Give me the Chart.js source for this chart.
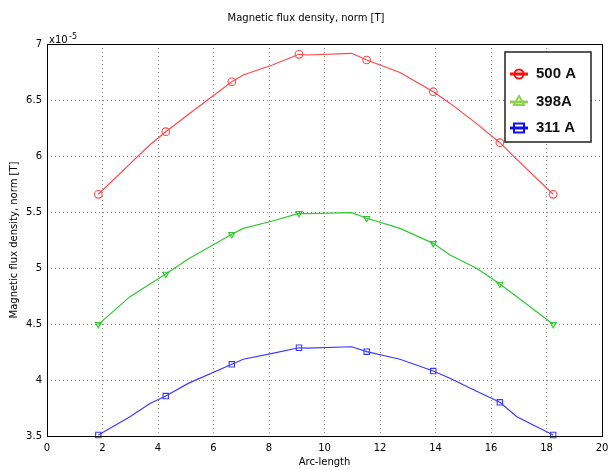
<!DOCTYPE html>
<html>
<head>
<meta charset="utf-8">
<script src="https://cdn.jsdelivr.net/npm/chart.js@4"></script>
<style>
  html, body { margin: 0; padding: 0; background: #fff; }
  #wrap { width: 609px; height: 470px; }
</style>
</head>
<body>
<div id="wrap"><canvas id="chartFlux" width="609" height="470"></canvas></div>
<script>
// arc-length sample positions (shared by all three currents)
const arcX = [1.85, 2.99, 3.71, 4.28, 5.09, 6.66, 7.07, 8.12, 9.08, 9.36, 10.98, 11.52, 12.72, 13.92, 14.52, 15.48, 16.32, 16.93, 18.24];
// which samples carry a marker
const markerIdx = [0, 3, 5, 8, 11, 13, 16, 18];

// |B| in units of 1e-5 T
const flux500 = [5.658, 5.93, 6.10, 6.217, 6.37, 6.663, 6.723, 6.812, 6.908, 6.902, 6.917, 6.857, 6.745, 6.574, 6.472, 6.289, 6.119, 5.97, 5.658];
const flux398 = [4.497, 4.744, 4.857, 4.946, 5.08, 5.301, 5.354, 5.42, 5.488, 5.485, 5.494, 5.444, 5.354, 5.22, 5.116, 4.997, 4.857, 4.744, 4.497];
const flux311 = [3.509, 3.672, 3.79, 3.857, 3.97, 4.14, 4.185, 4.238, 4.288, 4.285, 4.297, 4.253, 4.185, 4.08, 4.015, 3.90, 3.801, 3.672, 3.509];

const seriesNames = ["500 A", "398A", "311 A"];
const xTicks = [0, 2, 4, 6, 8, 10, 12, 14, 16, 18, 20];
const yTicks = [3.5, 4, 4.5, 5, 5.5, 6, 6.5, 7];

const tickFont = { family: "DejaVu Sans", size: 10 };

function points(values) {
  return arcX.map((x, i) => ({ x, y: values[i] }));
}

function radii(r) {
  return arcX.map((_, i) => (markerIdx.includes(i) ? r : 0));
}

function series(label, values, color, style, rotation) {
  return {
    label,
    data: points(values),
    borderColor: color,
    backgroundColor: "rgba(0,0,0,0)",
    borderWidth: 1.2,
    pointStyle: style,
    rotation,
    pointRadius: radii(style === "triangle" ? 3.5 : 3.8),
    pointBorderColor: color,
    pointBorderWidth: 1.1,
    pointBackgroundColor: "rgba(0,0,0,0)",
    tension: 0,
    clip: 6,
  };
}

// frame, exponent, title and the boxed legend
const decorations = {
  id: "decorations",
  afterDatasetsDraw(chart) {
    const { ctx, chartArea: a } = chart;
    ctx.save();
    ctx.strokeStyle = "#000";
    ctx.lineWidth = 1;
    ctx.strokeRect(Math.round(a.left) + 0.5, Math.round(a.top) + 0.5, Math.round(a.right - a.left), Math.round(a.bottom - a.top));

    ctx.fillStyle = "#000";
    ctx.font = "10px 'DejaVu Sans'";
    ctx.textAlign = "center";
    ctx.textBaseline = "middle";
    ctx.fillText("Magnetic flux density, norm [T]", 306, 18);

    ctx.textAlign = "left";
    ctx.textBaseline = "alphabetic";
    ctx.fillText("x10", a.left + 2, a.top - 1);
    ctx.font = "8px 'DejaVu Sans'";
    ctx.fillText("-5", a.left + 22, a.top - 5);

    // legend box
    const box = { x: 505, y: 52, w: 86, h: 90 };
    ctx.fillStyle = "#fff";
    ctx.fillRect(box.x, box.y, box.w, box.h);
    ctx.lineWidth = 1.5;
    ctx.strokeStyle = "#222";
    ctx.strokeRect(box.x, box.y, box.w, box.h);

    const legendColors = ["#ff1010", "#90d050", "#1010ee"];
    const rows = [74, 102, 128];
    rows.forEach((y, i) => {
      const c = legendColors[i];
      ctx.strokeStyle = c;
      ctx.fillStyle = c;
      ctx.lineWidth = 3;
      ctx.beginPath();
      ctx.moveTo(510, y);
      ctx.lineTo(528, y);
      ctx.stroke();
      ctx.lineWidth = 2;
      ctx.beginPath();
      if (i === 0) {
        ctx.arc(519, y, 4.5, 0, Math.PI * 2);
      } else if (i === 1) {
        ctx.moveTo(519, y - 6);
        ctx.lineTo(524, y + 3);
        ctx.lineTo(514, y + 3);
        ctx.closePath();
      } else {
        ctx.rect(514, y - 4.5, 10, 9);
      }
      ctx.stroke();
      ctx.fillStyle = "#111";
      ctx.font = "bold 15px 'Liberation Sans'";
      ctx.textBaseline = "middle";
      ctx.fillText(seriesNames[i], 536, y);
    });
    ctx.restore();
  },
};

const gridStyle = { color: "#8a8a8a", drawTicks: false };
const borderStyle = { display: false, dash: [1, 3] };

const chart = new Chart(document.getElementById("chartFlux"), {
  type: "line",
  data: {
    datasets: [
      series(seriesNames[0], flux500, "#ff4848", "circle", 0),
      series(seriesNames[1], flux398, "#2ec82e", "triangle", 180),
      series(seriesNames[2], flux311, "#3a3aff", "rect", 0),
    ],
  },
  options: {
    responsive: false,
    animation: false,
    layout: { padding: { top: 44, right: 7, bottom: 0, left: 0 } },
    plugins: { legend: { display: false }, tooltip: { enabled: false } },
    scales: {
      x: {
        type: "linear",
        min: 0,
        max: 20,
        afterBuildTicks(scale) {
          scale.ticks = xTicks.map((v) => ({ value: v }));
        },
        afterFit(scale) {
          scale.height = 34;
          scale.paddingLeft = 0;
          scale.paddingRight = 0;
        },
        grid: gridStyle,
        border: borderStyle,
        ticks: { font: tickFont, color: "#000", padding: 6, maxRotation: 0, callback: (v) => String(v) },
        title: { display: true, text: "Arc-length", font: tickFont, color: "#000", padding: { top: 0, bottom: 2 } },
      },
      y: {
        type: "linear",
        min: 3.5,
        max: 7,
        afterBuildTicks(scale) {
          scale.ticks = yTicks.map((v) => ({ value: v }));
        },
        afterFit(scale) {
          scale.width = 47;
        },
        grid: gridStyle,
        border: borderStyle,
        ticks: { font: tickFont, color: "#000", padding: 5, callback: (v) => String(v) },
        title: { display: true, text: "Magnetic flux density, norm [T]", font: tickFont, color: "#000", padding: { top: 8, bottom: 0 } },
      },
    },
  },
  plugins: [decorations],
});
</script>
</body>
</html>
